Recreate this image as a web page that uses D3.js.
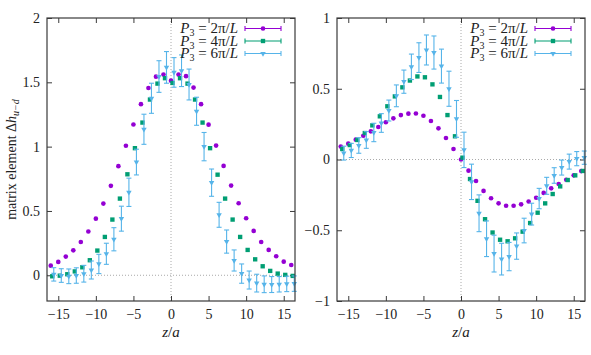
<!DOCTYPE html>
<html><head><meta charset="utf-8">
<script src="https://cdn.jsdelivr.net/npm/d3@7"></script>
<style>
body{margin:0;background:#fff}
svg{display:block}
</style>
</head><body>
<svg id="c" width="591" height="355"></svg>
<script>
// ---------- data ----------
const zBase = [-16,-15,-14,-13,-12,-11,-10,-9,-8,-7,-6,-5,-4,-3,-2,-1,0,1,2,3,4,5,6,7,8,9,10,11,12,13,14,15,16];
const seriesShift = [0, 0.2, 0.4];
const seriesNames = ["2π", "4π", "6π"];
const seriesColors = ["#9400d3", "#009e73", "#56b4e9"];

const leftP2 = [0.075,0.104,0.145,0.194,0.259,0.34,0.44,0.557,0.695,0.848,1.007,1.172,1.33,1.456,1.544,1.56,1.513,1.56,1.548,1.459,1.33,1.171,1.008,0.85,0.697,0.56,0.443,0.345,0.259,0.197,0.148,0.106,0.08];
const leftP4 = [-0.008,-0.003,0.008,0.03,0.062,0.117,0.192,0.298,0.433,0.596,0.785,0.988,1.187,1.366,1.49,1.532,1.495,1.532,1.49,1.366,1.187,0.988,0.782,0.596,0.433,0.298,0.197,0.124,0.07,0.034,0.013,0.003,-0.005];
const leftP6 = [0.007,-0.002,-0.008,-0.002,0.012,0.041,0.088,0.167,0.28,0.44,0.645,0.88,1.135,1.376,1.545,1.616,1.577,1.59,1.483,1.275,1.0,0.72,0.47,0.262,0.115,0.013,-0.037,-0.061,-0.07,-0.072,-0.07,-0.067,-0.065];
const leftP6err = [0.052,0.053,0.057,0.06,0.065,0.07,0.075,0.082,0.09,0.097,0.11,0.1,0.117,0.117,0.123,0.123,0.115,0.123,0.12,0.109,0.11,0.106,0.097,0.09,0.082,0.075,0.07,0.069,0.065,0.062,0.06,0.06,0.06];

const rightP2 = [0.091,0.112,0.14,0.168,0.199,0.23,0.263,0.291,0.314,0.324,0.325,0.309,0.272,0.22,0.152,0.074,0.0,-0.079,-0.152,-0.222,-0.274,-0.31,-0.327,-0.327,-0.317,-0.297,-0.27,-0.236,-0.204,-0.173,-0.143,-0.112,-0.082];
const rightP4 = [0.074,0.102,0.138,0.187,0.241,0.305,0.376,0.446,0.51,0.558,0.587,0.581,0.531,0.442,0.314,0.164,0.013,-0.138,-0.292,-0.422,-0.516,-0.567,-0.578,-0.557,-0.51,-0.449,-0.376,-0.31,-0.244,-0.19,-0.145,-0.112,-0.081];
const rightP6 = [0.045,0.064,0.099,0.138,0.191,0.258,0.346,0.45,0.55,0.655,0.72,0.774,0.756,0.66,0.5,0.287,0.068,-0.158,-0.38,-0.56,-0.665,-0.704,-0.686,-0.612,-0.502,-0.386,-0.276,-0.186,-0.113,-0.057,-0.015,0.006,0.013];
const rightP6err = [0.049,0.05,0.055,0.059,0.065,0.066,0.074,0.077,0.082,0.09,0.105,0.106,0.117,0.12,0.124,0.13,0.125,0.125,0.13,0.126,0.13,0.112,0.1,0.093,0.087,0.077,0.072,0.06,0.055,0.053,0.053,0.05,0.047];

const xTicks = [-15,-10,-5,0,5,10,15];
const leftYTicks = [0,0.5,1,1.5,2];
const rightYTicks = [-1,-0.5,0,0.5,1];
const xDomain = [-16.5, 16.5];
const leftYDomain = [-0.2, 2];
const rightYDomain = [-1, 1];

// ---------- drawing ----------
const FONT = "'Liberation Serif', 'Times New Roman', serif";
const svg = d3.select("#c");
const frameColor = "#3a3a3a";
const fmt = v => String(v).replace("-", "\u2212");

function symbolFor(i){
  if(i===0) return d3.symbol().type(d3.symbolCircle).size(17)();
  if(i===1) return d3.symbol().type(d3.symbolSquare).size(19)();
  return d3.symbol().type(d3.symbolTriangle).size(13)();
}

function panel(opts){
  const {x0,x1,y0,y1,yDomain,yTicks,series,errs,showYLabel} = opts;
  const x = d3.scaleLinear().domain(xDomain).range([x0,x1]);
  const y = d3.scaleLinear().domain(yDomain).range([y1,y0]);
  const g = svg.append("g");

  // zero axes (dotted)
  g.append("line").attr("x1",x0).attr("x2",x1).attr("y1",y(0)).attr("y2",y(0))
    .attr("stroke","#aaa").attr("stroke-width",1).attr("stroke-dasharray","1,2");
  g.append("line").attr("x1",x(0)).attr("x2",x(0)).attr("y1",y0).attr("y2",y1)
    .attr("stroke","#aaa").attr("stroke-width",1).attr("stroke-dasharray","1,2");

  // axes with inward ticks
  const tl = 5;
  const ax = [
    g.append("g").attr("transform",`translate(0,${y1})`)
      .call(d3.axisBottom(x).tickValues(xTicks).tickFormat(fmt).tickSizeInner(-tl).tickSizeOuter(0).tickPadding(8)),
    g.append("g").attr("transform",`translate(0,${y0})`)
      .call(d3.axisTop(x).tickValues(xTicks).tickFormat("").tickSizeInner(-tl).tickSizeOuter(0)),
    g.append("g").attr("transform",`translate(${x0},0)`)
      .call(d3.axisLeft(y).tickValues(yTicks).tickFormat(fmt).tickSizeInner(-tl).tickSizeOuter(0).tickPadding(7)),
    g.append("g").attr("transform",`translate(${x1},0)`)
      .call(d3.axisRight(y).tickValues(yTicks).tickFormat("").tickSizeInner(-tl).tickSizeOuter(0))
  ];
  ax.forEach(a=>{
    a.attr("font-family",null).attr("font-size",null);
    a.select(".domain").remove();
    a.selectAll("line").attr("stroke",frameColor).attr("stroke-width",1);
    a.selectAll("text").attr("fill","#222").style("font-family",FONT).style("font-size","14px");
  });

  // series
  series.forEach((vals,i)=>{
    const sg = g.append("g");
    const pts = zBase.map((z,k)=>({z:z+seriesShift[i], v:vals[k], e: errs[i] ? errs[i][k] : 0}));
    if(errs[i]){
      pts.forEach(p=>{
        const cx = x(p.z);
        sg.append("line").attr("x1",cx).attr("x2",cx).attr("y1",y(p.v-p.e)).attr("y2",y(p.v+p.e))
          .attr("stroke",seriesColors[i]).attr("stroke-width",1.1);
        [p.v-p.e,p.v+p.e].forEach(vv=>{
          sg.append("line").attr("x1",cx-2.5).attr("x2",cx+2.5).attr("y1",y(vv)).attr("y2",y(vv))
            .attr("stroke",seriesColors[i]).attr("stroke-width",1.1);
        });
      });
    }
    pts.forEach(p=>{
      sg.append("path").attr("d",symbolFor(i))
        .attr("transform",`translate(${x(p.z)},${y(p.v)})${i===2?" rotate(180)":""}`)
        .attr("fill",seriesColors[i]);
    });
  });

  // frame
  g.append("rect").attr("x",x0).attr("y",y0).attr("width",x1-x0).attr("height",y1-y0)
    .attr("fill","none").attr("stroke",frameColor).attr("stroke-width",1.2);

  // legend
  const lg = g.append("g");
  seriesNames.forEach((nm,i)=>{
    const cy = y0 + 10.5 + i*12.5;
    const tx = x1 - 57;
    const t = lg.append("text").attr("x",tx).attr("y",cy+4.5).attr("text-anchor","end")
      .style("font-family",FONT).style("font-size","15px").attr("fill","#222");
    t.append("tspan").style("font-style","italic").text("P");
    t.append("tspan").style("font-size","10px").attr("baseline-shift","-3").text("3");
    t.append("tspan").text(" = " + nm + "/");
    t.append("tspan").style("font-style","italic").text("L");
    const lx0 = x1 - 50, lx1 = x1 - 14;
    lg.append("line").attr("x1",lx0).attr("x2",lx1).attr("y1",cy).attr("y2",cy)
      .attr("stroke",seriesColors[i]).attr("stroke-width",1.1);
    [lx0,lx1].forEach(xx=>lg.append("line").attr("x1",xx).attr("x2",xx).attr("y1",cy-2.5).attr("y2",cy+2.5)
      .attr("stroke",seriesColors[i]).attr("stroke-width",1.1));
    lg.append("path").attr("d",symbolFor(i))
      .attr("transform",`translate(${(lx0+lx1)/2},${cy})${i===2?" rotate(180)":""}`)
      .attr("fill",seriesColors[i]);
  });

  // x label
  const xl = g.append("text").attr("x",(x0+x1)/2).attr("y",337).attr("text-anchor","middle")
    .style("font-family",FONT).style("font-size","15px").attr("fill","#222");
  xl.append("tspan").style("font-style","italic").text("z");
  xl.append("tspan").text("/");
  xl.append("tspan").style("font-style","italic").text("a");

  if(showYLabel){
    const yl = g.append("text").attr("transform",`translate(16,${(y0+y1)/2}) rotate(-90)`)
      .attr("text-anchor","middle").style("font-family",FONT).style("font-size","14px").attr("fill","#222");
    yl.append("tspan").text("matrix element \u0394");
    yl.append("tspan").style("font-style","italic").text("h");
    yl.append("tspan").style("font-style","italic").style("font-size","10px").attr("baseline-shift","-3").text("u\u2212d");
  }
}

panel({x0:47,x1:295,y0:18,y1:301,yDomain:leftYDomain,yTicks:leftYTicks,
  series:[leftP2,leftP4,leftP6], errs:[null,null,leftP6err], showYLabel:true});
panel({x0:337,x1:585,y0:18,y1:301,yDomain:rightYDomain,yTicks:rightYTicks,
  series:[rightP2,rightP4,rightP6], errs:[null,null,rightP6err], showYLabel:false});
</script>
</body></html>
